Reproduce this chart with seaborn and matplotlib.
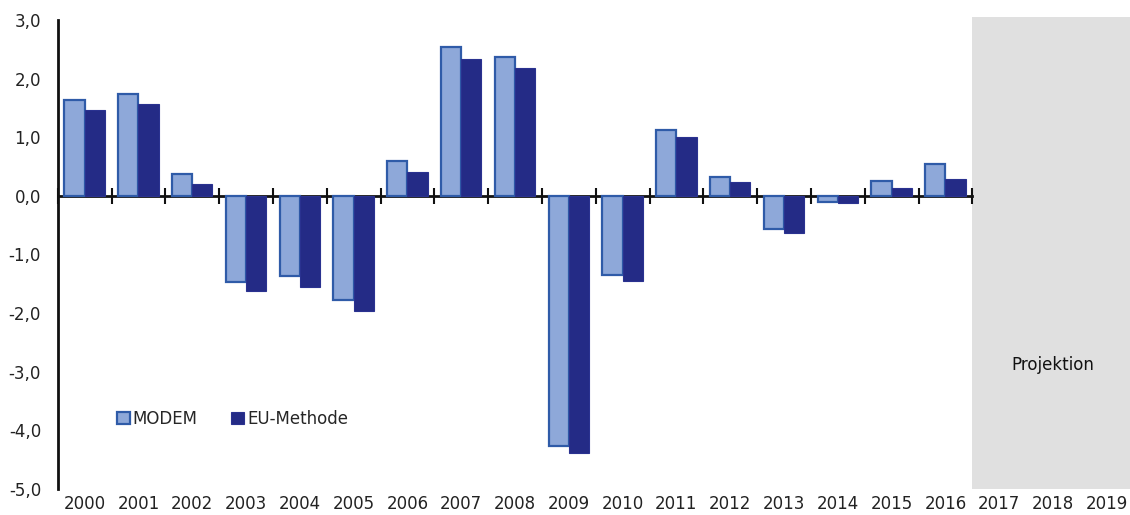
import matplotlib
matplotlib.use("Agg")
from matplotlib import pyplot as plt
import pandas as pd
import seaborn as sns

years = [str(y) for y in range(2000, 2020)]
data_years = years[:17]
modem = [1.63, 1.73, 0.38, -1.47, -1.36, -1.78, 0.60, 2.53, 2.36, -4.27, -1.35,
         1.12, 0.32, -0.57, -0.11, 0.25, 0.55]
eu_methode = [1.46, 1.57, 0.20, -1.63, -1.55, -1.96, 0.41, 2.34, 2.18, -4.38, -1.46,
              1.01, 0.23, -0.63, -0.13, 0.14, 0.28]
series_names = ["MODEM", "EU-Methode"]
y_ticks = [3, 2, 1, 0, -1, -2, -3, -4, -5]
projection_years = years[17:]

df = pd.DataFrame({"year": data_years, "MODEM": modem, "EU-Methode": eu_methode})
df = df.melt(id_vars="year", var_name="series", value_name="value")

sns.set_style("white")
plt.rcParams["font.family"] = ["DejaVu Sans"]
plt.rcParams["font.size"] = 12

fill_colors = {"MODEM": "#8ea8d9", "EU-Methode": "#242b86"}
edge_colors = {"MODEM": "#2f5ba8", "EU-Methode": "#2a3290"}

fig = plt.figure(figsize=(11.3, 5.15), dpi=100)
ax = fig.add_axes([0.0511, 0.0505, 0.9522, 0.9165])

sns.barplot(data=df, x="year", y="value", hue="series", order=years,
            hue_order=series_names, palette=fill_colors, saturation=1,
            width=0.75, legend=False, ax=ax, zorder=3)
for cont, name in zip(ax.containers, series_names):
    for p in cont.patches:
        p.set_edgecolor(edge_colors[name])
        p.set_linewidth(1.6 if name == "MODEM" else 0.8)

ax.set_xlim(-0.5, len(years) - 0.5)
ax.set_ylim(-5, 3.05)

# projection area
ax.axvspan(years.index(projection_years[0]) - 0.5, len(years) - 0.5,
           color="#e0e0e0", lw=0, zorder=0)
ax.text(years.index("2018"), -2.88, "Projektion", ha="center", va="center",
        fontsize=12, color="#111111")

# y axis
ax.set_yticks(y_ticks)
ax.set_yticklabels([f"{v:.1f}".replace(".", ",") for v in y_ticks])
ax.tick_params(axis="y", direction="inout", length=10, width=1.5, pad=7,
               labelsize=12, colors="#222222")
ax.spines["left"].set_bounds(-5, 3)
ax.spines["left"].set_linewidth(2)
ax.spines["left"].set_color("#111111")
for side in ["top", "right", "bottom"]:
    ax.spines[side].set_visible(False)

# x labels at the bottom
ax.tick_params(axis="x", length=0, pad=4, labelsize=12, colors="#222222")
ax.set_xlabel("")
ax.set_ylabel("")

# zero line with category ticks
zero_frac = (0 - ax.get_ylim()[0]) / (ax.get_ylim()[1] - ax.get_ylim()[0])
sec = ax.secondary_xaxis(zero_frac)
last_data = len(data_years) - 0.5
sec.set_xticks([k - 0.5 for k in range(len(data_years) + 1)])
sec.set_xticklabels([])
sec.tick_params(axis="x", direction="inout", length=12, width=1.5,
                color="#111111")
for side in ["top", "bottom"]:
    sec.spines[side].set_bounds(-0.5, last_data)
    sec.spines[side].set_linewidth(2)
    sec.spines[side].set_color("#111111")

ax.legend(ax.containers, series_names, loc="center left",
          bbox_to_anchor=(117 / 1130, 1 - 419 / 515), bbox_transform=fig.transFigure,
          ncol=2, frameon=False, handlelength=0.75, handleheight=0.75,
          handletextpad=0.2, columnspacing=2.0, borderpad=0, borderaxespad=0,
          fontsize=12)

fig.savefig("out.png", dpi=100)
